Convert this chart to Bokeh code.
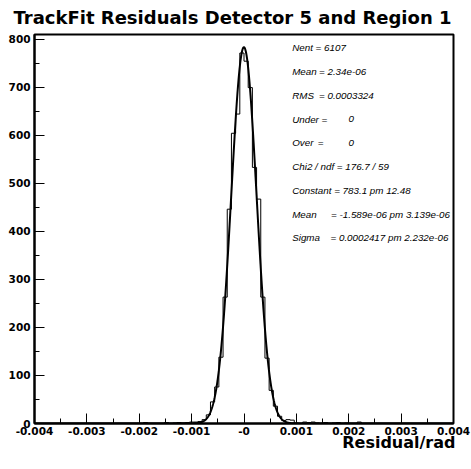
import numpy as np
from bokeh.plotting import figure
from bokeh.models import Range1d, FixedTicker, Label, Title
from bokeh.embed import file_html
from bokeh.resources import INLINE

# ---------------- data ----------------
x_min, x_max = -0.004, 0.004
n_bins = 100
counts = [
    0, 0, 0, 0, 0, 0, 0, 0, 0, 0,
    0, 0, 0, 0, 0, 0, 0, 0, 0, 0,
    0, 0, 0, 0, 0, 0, 2, 0, 0, 0,
    0, 2, 0, 1, 2, 1, 2, 3, 3, 4,
    8, 18, 45, 76, 138, 263, 446, 604, 644, 771,
    754, 699, 533, 467, 263, 136, 69, 36, 15, 6,
    8, 7, 1, 0, 3, 2, 3, 1, 0, 2,
    0, 1, 2, 0, 1, 0, 0, 3, 0, 0,
    0, 0, 0, 0, 0, 0, 0, 0, 0, 0,
    0, 0, 0, 0, 0, 0, 0, 0, 0, 0,
]
fit_constant = 783.1
fit_mean = -1.589e-06
fit_sigma = 0.0002417

x_ticks = [-0.004, -0.003, -0.002, -0.001, 0.0, 0.001, 0.002, 0.003, 0.004]
x_tick_labels = ["-0.004", "-0.003", "-0.002", "-0.001", "-0", "0.001", "0.002", "0.003", "0.004"]
x_minor_ticks = [-0.0035, -0.0025, -0.0015, -0.0005, 0.0005, 0.0015, 0.0025, 0.0035]
y_ticks = [0, 100, 200, 300, 400, 500, 600, 700, 800]
y_minor_ticks = [50, 150, 250, 350, 450, 550, 650, 750]

title_text = "TrackFit Residuals Detector 5 and Region 1"
x_title = "Residual/rad"
stat_names = ["Nent = 6107", "Mean", "RMS", "Under", "Over", "Chi2 / ndf = 176.7 / 59",
              "Constant = 783.1 pm 12.48", "Mean", "Sigma"]
stat_values = ["", "= 2.34e-06", "= 0.0003324", "0", "0", "", "",
               "= -1.589e-06 pm 3.139e-06", "= 0.0002417 pm 2.232e-06"]

# ---------------- geometry ----------------
W, H = 471, 469
FL, FR, FT, FB = 34, 453, 34, 423
y_top = 1.05 * max(counts)


def x_at(px):
    return x_min + (px - FL) / (FR - FL) * (x_max - x_min)


def y_at(py):
    return y_top * (FB - py) / (FB - FT)


p = figure(width=W, height=H, output_backend="svg", toolbar_location=None,
           x_range=Range1d(x_min, x_max), y_range=Range1d(0, y_top),
           min_border_left=FL, min_border_right=W - FR,
           min_border_top=FT, min_border_bottom=H - FB)
p.background_fill_color = "white"
p.border_fill_color = "white"
p.xgrid.visible = False
p.ygrid.visible = False
p.outline_line_color = "black"
p.outline_line_width = 2

# title (above)
p.title.text = title_text
p.title.align = "left"
p.title.offset = -21
p.title.text_font = "DejaVu Sans"
p.title.text_font_style = "bold"
p.title.text_font_size = "18px"
p.title.text_color = "black"
p.title.standoff = 10
p.title.vertical_align = "top"

# x-axis title (below, right aligned)
p.add_layout(Title(text=x_title, align="right", text_font="DejaVu Sans",
                   text_font_style="bold", text_font_size="16px", text_color="black",
                   offset=-2, standoff=-14), "below")

# histogram outline
edges = np.linspace(x_min, x_max, n_bins + 1)
hx = np.repeat(edges, 2)
hy = np.concatenate([[0], np.repeat(np.array(counts, dtype=float), 2), [0]])
p.line(hx, hy, line_color="black", line_width=1)

# fitted gaussian
xf = np.linspace(x_min, x_max, 1601)
yf = fit_constant * np.exp(-0.5 * ((xf - fit_mean) / fit_sigma) ** 2)
p.line(xf, yf, line_color="black", line_width=2)

for ax in (p.xaxis[0], p.yaxis[0]):
    ax.axis_line_color = "black"
    ax.axis_line_width = 2
    ax.major_tick_in = 10
    ax.major_tick_out = 0
    ax.minor_tick_in = 5
    ax.minor_tick_out = 0
    ax.major_tick_line_color = "black"
    ax.minor_tick_line_color = "black"
    ax.major_label_text_font = "DejaVu Sans"
    ax.major_label_text_font_style = "bold"
    ax.major_label_text_font_size = "10.5px"
    ax.major_label_text_color = "black"

p.xaxis.ticker = FixedTicker(ticks=x_ticks, minor_ticks=x_minor_ticks)
p.xaxis.major_label_overrides = {t: s for t, s in zip(x_ticks, x_tick_labels)}
p.xaxis.major_label_standoff = 3
p.yaxis.ticker = FixedTicker(ticks=y_ticks, minor_ticks=y_minor_ticks)
p.yaxis.major_label_standoff = 4

# statistics box
value_x = [0, 318.5, 318.5, 348, 348, 0, 0, 330.5, 330]
eq_x = [0, 0, 0, 321, 317.3, 0, 0, 0, 0]
stat_font = dict(text_align="left", text_baseline="middle", text_font="Liberation Sans",
                 text_font_style="italic", text_font_size="9.8px", text_color="black")
for i, (nm, val) in enumerate(zip(stat_names, stat_values)):
    yc = 47.3 + 23.75 * i
    p.add_layout(Label(x=x_at(291.7), y=y_at(yc), text=nm, **stat_font))
    if eq_x[i]:
        p.add_layout(Label(x=x_at(eq_x[i]), y=y_at(yc), text="=", **stat_font))
    if val:
        p.add_layout(Label(x=x_at(value_x[i]), y=y_at(yc), text=val, **stat_font))

open("out.html", "w").write(file_html(p, INLINE))
